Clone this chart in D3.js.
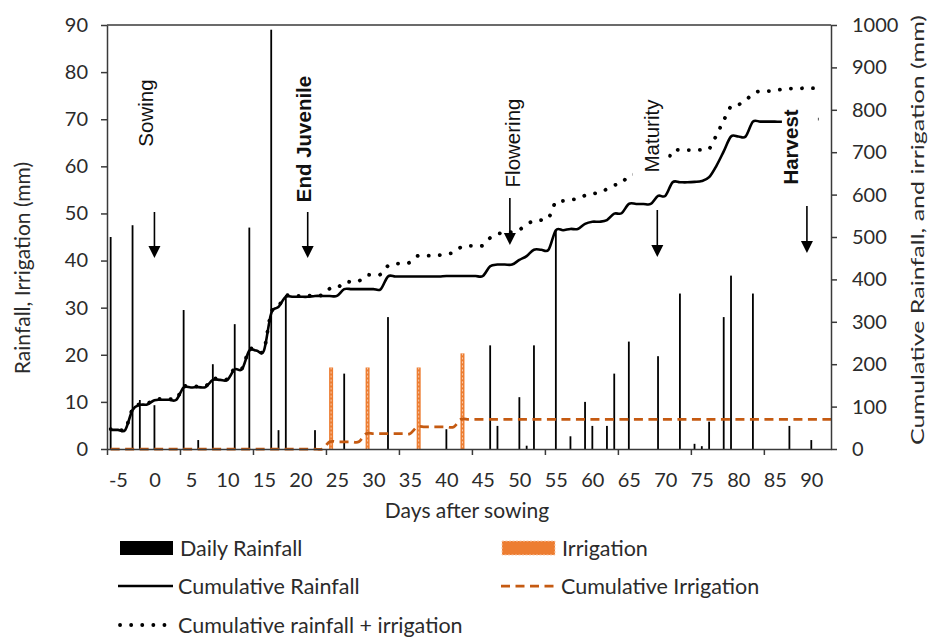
<!DOCTYPE html>
<html>
<head>
<meta charset="utf-8">
<script src="https://cdn.jsdelivr.net/npm/d3@7/dist/d3.min.js"></script>
<style>
  html, body { margin: 0; padding: 0; background: #fff; }
  svg { display: block; }
</style>
</head>
<body>
<svg id="chart" width="935" height="637"></svg>
<script>
// ---------------- data ----------------
// Daily rainfall events: day after sowing and amount (mm)
const rainDays = [-6, -3, -2, 0, 4, 6, 8, 11, 13, 16,
                  17, 18, 22, 26, 32, 40, 46, 47, 50, 51,
                  52, 55, 57, 59, 60, 62, 63, 65, 69, 72,
                  74, 75, 76, 78, 79, 82, 87, 90];
const rainMM   = [45, 47.5, 10.4, 9.3, 29.5, 1.9, 18, 26.5, 47, 89,
                  4, 32.7, 4, 16, 28, 4.2, 22, 4.9, 11, 0.7,
                  22, 46.3, 2.7, 10, 4.9, 4.9, 16, 22.8, 19.7, 33,
                  1.1, 0.6, 5.8, 28, 36.8, 33, 4.9, 1.9];

// Irrigation events (mm)
const irrigDays = [24, 29, 36, 42];
const irrigMM   = [17.3, 17.3, 17.3, 20.3];

// Cumulative rainfall (mm), one value per day starting at day -6
const cumRainStart = -6;
const cumRain = [45, 45, 45, 92, 104, 105, 115, 116, 116, 116,
                 145, 145, 146, 146, 163, 163, 163, 188, 188, 232,
                 232, 232, 320, 335, 359, 359, 359, 359, 361, 361,
                 361, 361, 377, 377, 377, 377, 377, 377, 407, 407,
                 407, 407, 407, 407, 407, 407, 408, 408, 408, 408,
                 408, 408, 431, 435, 435, 435, 446, 455, 470, 470,
                 470, 516, 516, 519, 519, 531, 536, 536, 540, 555,
                 556, 578, 578, 578, 578, 597, 597, 629, 629, 629,
                 630, 632, 641, 668, 702, 737, 737, 737, 772, 772,
                 772, 772, 772, 776, 776, 776, 778, 778];

// Cumulative rainfall + irrigation (mm), same days as cumRain
const cumTotal = [47, 47, 47, 94, 106, 107, 117, 118, 118, 118,
                  147, 147, 148, 148, 165, 165, 165, 190, 190, 234,
                  234, 234, 322, 337, 361, 361, 361, 361, 363, 363,
                  378, 379, 394, 394, 396, 410, 410, 412, 432, 437,
                  437, 440, 455, 456, 456, 457, 461, 463, 476, 479,
                  479, 480, 498, 507, 510, 512, 517, 530, 538, 540,
                  545, 583, 585, 588, 590, 598, 602, 605, 613, 622,
                  627, 645, 648, 650, 652, 667, 670, 703, 705, 705,
                  705, 706, 708, 740, 775, 808, 812, 822, 838, 844,
                  844, 846, 848, 850, 850, 851, 851, 851];

// Cumulative irrigation (mm), one value per day starting at day -6
const cumIrrigStart = -6;
const cumIrrig = [0, 0, 0, 0, 0, 0, 0, 0, 0, 0,
                  0, 0, 0, 0, 0, 0, 0, 0, 0, 0,
                  0, 0, 0, 0, 0, 0, 0, 0, 0, 0,
                  17, 17, 17, 17, 17, 36, 36, 36, 36, 36,
                  36, 36, 52, 52, 52, 52, 52, 52, 70, 70,
                  70, 70, 70, 70, 70, 70, 70, 70, 70, 70,
                  70, 70, 70, 70, 70, 70, 70, 70, 70, 70,
                  70, 70, 70, 70, 70, 70, 70, 70, 70, 70,
                  70, 70, 70, 70, 70, 70, 70, 70, 70, 70,
                  70, 70, 70, 70, 70, 70, 70, 70, 70, 70];

// Axis tick labels
const xLabelDays = [-5, 0, 5, 10, 15, 20, 25, 30, 35, 40, 45, 50, 55, 60, 65, 70, 75, 80, 85, 90];
const leftTicks  = [0, 10, 20, 30, 40, 50, 60, 70, 80, 90];
const rightTicks = [0, 100, 200, 300, 400, 500, 600, 700, 800, 900, 1000];

// Crop stage markers
const stageNames = ["Sowing", "End Juvenile", "Flowering", "Maturity", "Harvest"];
const stageDays  = [0, 21, 48.7, 68.9, 89.4];

const legendLabels = ["Daily Rainfall", "Irrigation", "Cumulative Rainfall",
                      "Cumulative Irrigation", "Cumulative rainfall + irrigation"];

// ---------------- layout & style ----------------
const plot = { left: 107, right: 831, top: 25, bottom: 449 };
const FONT = "Lato, 'Open Sans', sans-serif";
const NOTE_FONT = "'Liberation Sans', Arial, sans-serif";
const INK = "#2b2b2b";
const AXIS = "#3a3a3a";
const ORANGE = "#ED7D31";
const ORANGE_DARK = "#C55A11";

const svg = d3.select("#chart");

const x  = d3.scaleLinear().domain([-6.5, 92.7]).range([plot.left, plot.right]);
const yL = d3.scaleLinear().domain([0, 90]).range([plot.bottom, plot.top]);
const yR = d3.scaleLinear().domain([0, 1000]).range([plot.bottom, plot.top]);

svg.append("defs").append("clipPath").attr("id", "plotClip")
  .append("rect")
  .attr("x", plot.left).attr("y", plot.top - 10)
  .attr("width", plot.right - plot.left)
  .attr("height", plot.bottom - plot.top + 14);

// ---------------- bars ----------------
const rain = rainDays.map((d, i) => ({ day: d, v: rainMM[i] }));
svg.append("g").selectAll("rect").data(rain).join("rect")
  .attr("x", d => x(d.day) - 0.9)
  .attr("width", 1.8)
  .attr("y", d => yL(d.v))
  .attr("height", d => yL(0) - yL(d.v))
  .attr("fill", "#000");

const irrig = irrigDays.map((d, i) => ({ day: d, v: irrigMM[i] }));
const gIrr = svg.append("g");
gIrr.selectAll("rect").data(irrig).join("rect")
  .attr("x", d => x(d.day) + 1.5 - 2)
  .attr("width", 4)
  .attr("y", d => yL(d.v))
  .attr("height", d => yL(0) - yL(d.v))
  .attr("fill", ORANGE);
gIrr.selectAll("line").data(irrig).join("line")
  .attr("x1", d => x(d.day) + 1.5).attr("x2", d => x(d.day) + 1.5)
  .attr("y1", d => yL(d.v)).attr("y2", yL(0))
  .attr("stroke", "#F8CBAD").attr("stroke-width", 1)
  .attr("stroke-dasharray", "2 2");

// ---------------- cumulative lines ----------------
const toSeries = (arr, start) => arr.map((v, i) => ({ day: start + i, v }));
const lineR = d3.line()
  .x(d => x(d.day))
  .y(d => yR(d.v))
  .curve(d3.curveCardinal.tension(0));

const gLines = svg.append("g").attr("clip-path", "url(#plotClip)");
gLines.append("path")
  .datum(toSeries(cumIrrig, cumIrrigStart))
  .attr("d", lineR)
  .attr("fill", "none")
  .attr("stroke", ORANGE_DARK)
  .attr("stroke-width", 2.75)
  .attr("stroke-dasharray", "9 5.5");
gLines.append("path")
  .datum(toSeries(cumRain, cumRainStart))
  .attr("d", lineR)
  .attr("fill", "none")
  .attr("stroke", "#000")
  .attr("stroke-width", 2.6)
  .attr("stroke-linejoin", "round");
gLines.append("path")
  .datum(toSeries(cumTotal, cumRainStart))
  .attr("d", lineR)
  .attr("fill", "none")
  .attr("stroke", "#000")
  .attr("stroke-width", 3.8)
  .attr("stroke-linecap", "round")
  .attr("stroke-dasharray", "0.1 11");

// ---------------- axes ----------------
function styleAxis(g) {
  g.attr("font-family", FONT).attr("font-size", 20).attr("color", AXIS);
  g.selectAll(".domain").attr("stroke-width", 1.5);
  g.selectAll(".tick line").attr("stroke-width", 1.5);
  g.selectAll("text").attr("fill", INK);
}

// top border of plot area
svg.append("line")
  .attr("x1", plot.left).attr("x2", plot.right)
  .attr("y1", plot.top).attr("y2", plot.top)
  .attr("stroke", AXIS).attr("stroke-width", 1.5);

svg.append("g")
  .attr("transform", `translate(${plot.left},0)`)
  .call(d3.axisLeft(yL).tickValues(leftTicks).tickSize(6).tickSizeOuter(0)
    .tickPadding(13).tickFormat(d => String(d)))
  .call(styleAxis);

svg.append("g")
  .attr("transform", `translate(${plot.right},0)`)
  .call(d3.axisRight(yR).tickValues(rightTicks).tickSize(6).tickSizeOuter(0)
    .tickPadding(15).tickFormat(d => String(d)))
  .call(styleAxis);

// tick marks on the day axis every ten days, at category boundaries
const xTickBounds = d3.range(-6.5, 90, 10);
svg.append("g")
  .attr("transform", `translate(0,${plot.bottom})`)
  .call(d3.axisBottom(x).tickValues(xTickBounds).tickSize(6).tickSizeOuter(0).tickFormat(""))
  .call(styleAxis);

const xLab = svg.append("g")
  .attr("transform", `translate(0,${plot.bottom})`)
  .call(d3.axisBottom(x).tickValues(xLabelDays).tickSize(0).tickPadding(24)
    .tickFormat(d => String(d)))
  .call(styleAxis);
xLab.select(".domain").remove();

// axis titles
svg.append("text")
  .attr("transform", "translate(30,268) rotate(-90)")
  .attr("text-anchor", "middle")
  .attr("font-family", FONT).attr("font-size", 21).attr("fill", INK)
  .text("Rainfall, Irrigation (mm)");

svg.append("text")
  .attr("transform", "translate(924,230) rotate(-90)")
  .attr("text-anchor", "middle")
  .attr("font-family", FONT).attr("font-size", 17).attr("fill", INK)
  .attr("textLength", 430).attr("lengthAdjust", "spacingAndGlyphs")
  .text("Cumulative Rainfall, and irrigation (mm)");

svg.append("text")
  .attr("x", 467).attr("y", 518)
  .attr("text-anchor", "middle")
  .attr("font-family", FONT).attr("font-size", 21).attr("fill", INK)
  .text("Days after sowing");

// ---------------- stage markers ----------------
const stageStyle = {
  "Sowing":       { bold: false, dx: -1.4, cy: 113, top: 212, tip: 258 },
  "End Juvenile": { bold: true,  dx: 3.3,  cy: 139, top: 212, tip: 258 },
  "Flowering":    { bold: false, dx: 10.5, cy: 143, top: 198, tip: 245 },
  "Maturity":     { bold: false, dx: 1.4,  cy: 136, top: 210, tip: 257 },
  "Harvest":      { bold: true,  dx: -9,   cy: 147, top: 206, tip: 253 }
};

stageNames.forEach((name, i) => {
  const s = stageStyle[name];
  const ax = x(stageDays[i]);
  const g = svg.append("g");
  const box = g.append("rect").attr("fill", "#fff");
  const t = g.append("text")
    .attr("transform", `translate(${ax + s.dx},${s.cy}) rotate(-90)`)
    .attr("text-anchor", "middle")
    .attr("font-family", NOTE_FONT)
    .attr("font-size", 20.5)
    .attr("font-weight", s.bold ? "bold" : "normal")
    .attr("fill", "#111")
    .text(name);
  const len = t.node().getComputedTextLength();
  box.attr("x", ax - 25).attr("width", 36)
     .attr("y", s.cy - len / 2 - 16).attr("height", len + 26);
  g.append("line")
    .attr("x1", ax).attr("x2", ax)
    .attr("y1", s.top).attr("y2", s.tip - 10)
    .attr("stroke", "#000").attr("stroke-width", 1.6);
  g.append("path")
    .attr("d", `M${ax - 6},${s.tip - 12}L${ax + 6},${s.tip - 12}L${ax},${s.tip}Z`)
    .attr("fill", "#000");
});

// ---------------- legend ----------------
const legendItems = [
  { label: legendLabels[0], kind: "bar",    x0: 120, y: 548 },
  { label: legendLabels[1], kind: "irrig",  x0: 502, y: 548 },
  { label: legendLabels[2], kind: "line",   x0: 118, y: 586 },
  { label: legendLabels[3], kind: "dashed", x0: 501, y: 586 },
  { label: legendLabels[4], kind: "dots",   x0: 118, y: 625 }
];

const gLeg = svg.append("g");
legendItems.forEach(it => {
  const g = gLeg.append("g");
  if (it.kind === "bar") {
    g.append("rect").attr("x", it.x0).attr("y", it.y - 7).attr("width", 53).attr("height", 14)
      .attr("fill", "#000");
  } else if (it.kind === "irrig") {
    g.append("rect").attr("x", it.x0).attr("y", it.y - 7).attr("width", 53).attr("height", 14)
      .attr("fill", ORANGE).attr("stroke", "#F8CBAD").attr("stroke-width", 1)
      .attr("stroke-dasharray", "2 1.5");
  } else if (it.kind === "line") {
    g.append("line").attr("x1", it.x0).attr("x2", it.x0 + 55).attr("y1", it.y).attr("y2", it.y)
      .attr("stroke", "#000").attr("stroke-width", 2.6);
  } else if (it.kind === "dashed") {
    g.append("line").attr("x1", it.x0).attr("x2", it.x0 + 55).attr("y1", it.y).attr("y2", it.y)
      .attr("stroke", ORANGE_DARK).attr("stroke-width", 2.75).attr("stroke-dasharray", "9 5.5");
  } else {
    g.append("line").attr("x1", it.x0 + 2).attr("x2", it.x0 + 50).attr("y1", it.y).attr("y2", it.y)
      .attr("stroke", "#000").attr("stroke-width", 3.8).attr("stroke-linecap", "round")
      .attr("stroke-dasharray", "0.1 11");
  }
  g.append("text")
    .attr("x", it.x0 + 60).attr("y", it.y + 7.5)
    .attr("font-family", FONT).attr("font-size", 21.5).attr("fill", INK)
    .text(it.label);
});
</script>
</body>
</html>
